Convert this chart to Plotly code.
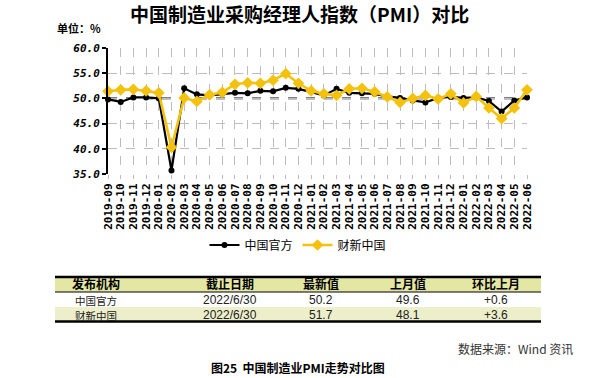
import plotly.graph_objects as go

months = ["2019-09","2019-10","2019-11","2019-12","2020-01","2020-02","2020-03","2020-04",
          "2020-05","2020-06","2020-07","2020-08","2020-09","2020-10","2020-11","2020-12",
          "2021-01","2021-02","2021-03","2021-04","2021-05","2021-06","2021-07","2021-08",
          "2021-09","2021-10","2021-11","2021-12","2022-01","2022-02","2022-03","2022-04",
          "2022-05","2022-06"]
official = [49.8,49.3,50.2,50.2,50.0,35.7,52.0,50.8,50.6,50.9,51.1,51.0,51.5,51.4,52.1,51.9,
            51.3,50.6,51.9,51.1,51.0,50.9,50.4,50.1,49.6,49.2,50.1,50.3,50.1,50.2,49.5,47.4,
            49.6,50.2]
caixin = [51.4,51.7,51.8,51.5,51.1,40.3,50.1,49.4,50.7,51.2,52.8,53.1,53.0,53.6,54.9,53.0,
          51.5,50.9,50.6,51.9,52.0,51.3,50.3,49.2,50.0,50.6,49.9,50.9,49.1,50.4,48.1,46.0,
          48.1,51.7]
series_names = ["中国官方", "财新中国"]
y_ticks = [35, 40, 45, 50, 55, 60]

table_header = ["发布机构", "截止日期", "最新值", "上月值", "环比上月"]
table_rows = [
    ["中国官方", "2022/6/30", "50.2", "49.6", "+0.6"],
    ["财新中国", "2022/6/30", "51.7", "48.1", "+3.6"],
]

W, H = 600, 378
L, R, T, B = 108, 73, 48, 204
PW, PH = W - L - R, H - T - B

def px(x):
    return (x - L) / PW

def py(y):
    return (H - B - y) / PH

CJK = "Noto Sans CJK SC"
MONO = "DejaVu Sans Mono"
SANS = "Liberation Sans"
YELLOW = "#F4C20D"

fig = go.Figure()
fig.add_trace(go.Scatter(
    x=months, y=official, name=series_names[0], mode="lines+markers",
    line=dict(color="#000000", width=2.2),
    marker=dict(symbol="circle", size=6, color="#000000"),
    cliponaxis=False,
))
fig.add_trace(go.Scatter(
    x=months, y=caixin, name=series_names[1], mode="lines+markers",
    line=dict(color=YELLOW, width=2.6),
    marker=dict(symbol="diamond", size=9, color=YELLOW),
    cliponaxis=False,
))

# reference line at 50
fig.add_shape(type="line", xref="paper", yref="y", x0=0, x1=1, y0=50, y1=50,
              line=dict(color="#000000", width=1.8, dash="dash"), layer="below")

fig.update_xaxes(
    type="category", range=[0, len(months) - 1],
    tickmode="array", tickvals=months, ticktext=months,
    showgrid=True, gridcolor="#BDBDBD", griddash="dash", gridwidth=1,
    showline=False, zeroline=False,
    ticks="outside", ticklen=4, tickcolor="#BDBDBD",
    tickangle=-90,
    tickfont=dict(family=MONO, size=11, color="#000000", weight="bold"),
)
fig.update_yaxes(
    range=[35, 60], tickvals=y_ticks, tickformat=".1f",
    showgrid=True, gridcolor="#BDBDBD", griddash="dash", gridwidth=1,
    showline=True, linecolor="#000000", linewidth=2,
    ticks="outside", ticklen=4, tickcolor="#000000", tickwidth=1.5,
    zeroline=False,
    tickfont=dict(family=MONO, size=11, color="#000000", weight="bold", style="italic"),
)

annotations = []
# title
annotations.append(dict(text="中国制造业采购经理人指数（PMI）对比", x=px(299), y=py(13),
                        xref="paper", yref="paper", showarrow=False, xanchor="center",
                        yanchor="middle", borderpad=0,
                        font=dict(family=CJK, size=19, color="#000000", weight="bold")))
annotations.append(dict(text="单位：%", x=px(56), y=py(28), xref="paper", yref="paper",
                        showarrow=False, xanchor="left", yanchor="middle", borderpad=0,
                        font=dict(family=CJK, size=11, color="#000000", weight="bold")))

# table
tx0, tx1 = px(55), px(541)
y_top, y_hdr, y_r2, y_bot = 277, 292, 307, 321.5
fig.add_shape(type="rect", xref="paper", yref="paper", x0=tx0, x1=tx1, y0=py(y_top), y1=py(y_hdr),
              fillcolor="#E4E7A4", line=dict(width=0), layer="below")
fig.add_shape(type="rect", xref="paper", yref="paper", x0=tx0, x1=tx1, y0=py(y_r2), y1=py(y_bot),
              fillcolor="#EDEFCB", line=dict(width=0), layer="below")
for yy, w in [(y_top, 2.5), (y_hdr, 1), (y_bot, 2.5)]:
    fig.add_shape(type="line", xref="paper", yref="paper", x0=tx0, x1=tx1, y0=py(yy), y1=py(yy),
                  line=dict(color="#000000", width=w))

col_centers = [96, 230, 321, 408, 496]
for i, h in enumerate(table_header):
    annotations.append(dict(text=h, x=px(col_centers[i]), y=py(283.8), xref="paper", yref="paper",
                            showarrow=False, xanchor="center", yanchor="middle", borderpad=0,
                            font=dict(family=CJK, size=12, color="#000000", weight="bold")))
row_y = [300.3, 315.3]
for r, row in enumerate(table_rows):
    for i, v in enumerate(row):
        fnt = dict(family=CJK, size=10.5, color="#222222") if i == 0 else \
              dict(family=SANS, size=12, color="#222222")
        annotations.append(dict(text=v, x=px(col_centers[i]), y=py(row_y[r]), xref="paper",
                                yref="paper", showarrow=False, xanchor="center", yanchor="middle",
                                borderpad=0, font=fnt))

annotations.append(dict(text="数据来源：Wind 资讯", x=px(574), y=py(348), xref="paper", yref="paper",
                        showarrow=False, xanchor="right", yanchor="middle", borderpad=0,
                        font=dict(family=CJK, size=12, color="#333333")))
annotations.append(dict(text="图25  中国制造业PMI走势对比图", x=px(298), y=py(367), xref="paper",
                        yref="paper", showarrow=False, xanchor="center", yanchor="middle",
                        borderpad=0,
                        font=dict(family=CJK, size=12, color="#000000", weight="bold")))

fig.update_layout(
    width=W, height=H,
    margin=dict(l=L, r=R, t=T, b=B),
    paper_bgcolor="#FFFFFF", plot_bgcolor="#FFFFFF",
    annotations=annotations,
    showlegend=True,
    legend=dict(orientation="h", x=px(298), y=py(245), xanchor="center", yanchor="middle",
                font=dict(family=CJK, size=12, color="#000000"), bgcolor="rgba(0,0,0,0)",
                itemwidth=30),
)

fig.write_html("out.html", config={"displayModeBar": False},
               post_script="document.body.style.margin='0';document.body.style.padding='0';")
